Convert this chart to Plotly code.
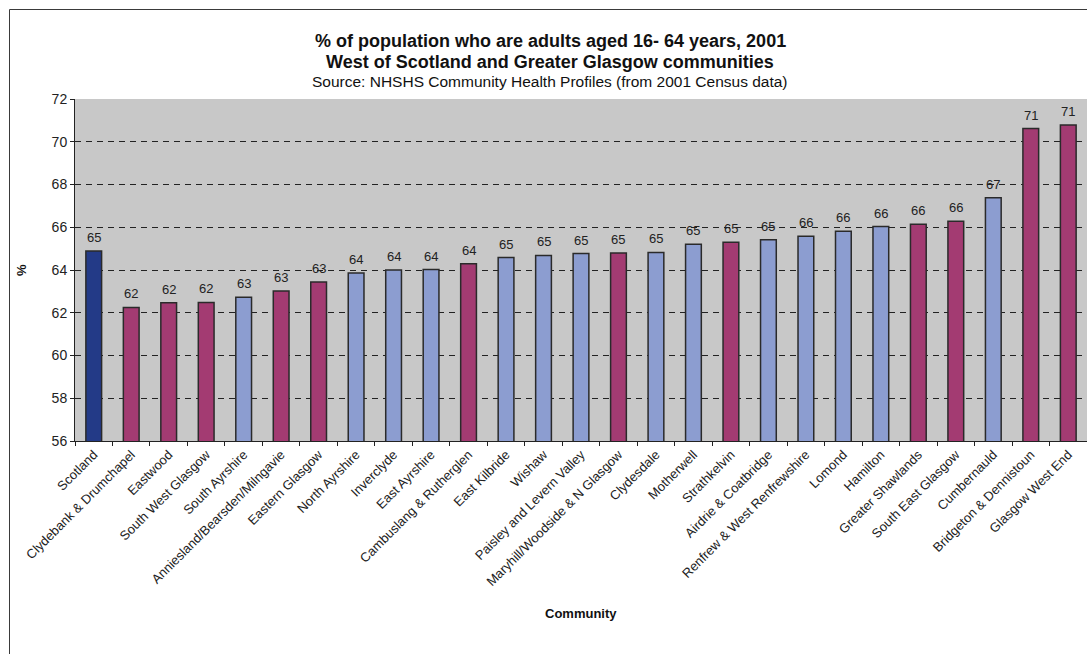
import plotly.graph_objects as go

# Communities, in chart order
communities = [
    "Scotland", "Clydebank & Drumchapel", "Eastwood", "South West Glasgow",
    "South Ayrshire", "Anniesland/Bearsden/Milngavie", "Eastern Glasgow",
    "North Ayrshire", "Inverclyde", "East Ayrshire", "Cambuslang & Rutherglen",
    "East Kilbride", "Wishaw", "Paisley and Levern Valley",
    "Maryhill/Woodside & N Glasgow", "Clydesdale", "Motherwell", "Strathkelvin",
    "Airdrie & Coatbridge", "Renfrew & West Renfrewshire", "Lomond", "Hamilton",
    "Greater Shawlands", "South East Glasgow", "Cumbernauld",
    "Bridgeton & Dennistoun", "Glasgow West End",
]

# % of population who are adults aged 16-64
pct_adults = [
    64.89, 62.25, 62.47, 62.48, 62.72, 63.02, 63.44, 63.86, 64.00, 64.02,
    64.29, 64.58, 64.68, 64.77, 64.79, 64.82, 65.21, 65.30, 65.41, 65.58,
    65.81, 66.03, 66.14, 66.28, 67.38, 70.62, 70.78,
]

# Area type: national figure, Glasgow city community, other community
area_type = [
    "national", "city", "city", "city", "other", "city", "city", "other",
    "other", "other", "city", "other", "other", "other", "city", "other",
    "other", "city", "other", "other", "other", "other", "city", "city",
    "other", "city", "city",
]

y_ticks = [56, 58, 60, 62, 64, 66, 68, 70, 72]

palette = {"national": "#233a87", "city": "#a33b72", "other": "#8c9dd0"}
bar_colors = [palette[t] for t in area_type]

FONT = "Liberation Sans, Arial, sans-serif"

fig = go.Figure()
fig.add_trace(go.Bar(
    x=communities,
    y=pct_adults,
    marker=dict(color=bar_colors, line=dict(color="#2a2a2a", width=1.5)),
    hoverinfo="x+y",
))

# Value labels above each bar
for c, v in zip(communities, pct_adults):
    fig.add_annotation(
        x=c, y=v, text=f"{v:.0f}", showarrow=False,
        yanchor="bottom", yshift=4,
        font=dict(family=FONT, size=13, color="#222222"),
    )

# Plot area in px
W, H = 1012, 342
L, T = 75, 99


def px_x(x):
    return (x - L) / W


def px_y(y):
    return (T + H - y) / H


title_lines = [
    ("<b>% of population who are adults aged 16- 64 years, 2001</b>", 41, 18),
    ("<b>West of Scotland and Greater Glasgow communities</b>", 61.5, 18),
    ("Source: NHSHS Community Health Profiles (from 2001 Census data)", 82, 15.5),
]
for text, ypx, size in title_lines:
    fig.add_annotation(
        x=px_x(550), y=px_y(ypx), xref="paper", yref="paper",
        text=text, showarrow=False, xanchor="center", yanchor="middle",
        font=dict(family=FONT, size=size, color="#111111"),
    )

fig.add_annotation(
    x=px_x(21), y=px_y(270), xref="paper", yref="paper",
    text="<b>%</b>", showarrow=False, textangle=-90,
    xanchor="center", yanchor="middle",
    font=dict(family=FONT, size=13, color="#111111"),
)
fig.add_annotation(
    x=px_x(581), y=px_y(613), xref="paper", yref="paper",
    text="<b>Community</b>", showarrow=False,
    xanchor="center", yanchor="middle",
    font=dict(family=FONT, size=13, color="#111111"),
)

# Outer chart frame
fig.add_shape(
    type="rect", xref="paper", yref="paper",
    x0=px_x(9.5), x1=1.2, y0=-1.2, y1=px_y(9.5),
    line=dict(color="#3a3a3a", width=1), fillcolor="rgba(0,0,0,0)",
    layer="below",
)

fig.update_layout(
    width=1087, height=654,
    margin=dict(l=L, r=1087 - L - W, t=T, b=654 - T - H),
    paper_bgcolor="white",
    plot_bgcolor="#c8c8c8",
    bargap=0.58,
    showlegend=False,
    font=dict(family=FONT, color="#222222"),
)
fig.update_xaxes(
    type="category",
    tickangle=-45,
    tickfont=dict(family=FONT, size=13, color="#222222"),
    showline=True, linecolor="#222222", linewidth=1,
    ticks="outside", tickson="boundaries", ticklen=4, tickcolor="#222222",
    showgrid=False,
)
fig.update_yaxes(
    range=[56, 72],
    tickvals=y_ticks,
    tickfont=dict(family=FONT, size=14, color="#222222"),
    showline=True, linecolor="#222222", linewidth=1,
    ticks="outside", ticklen=4, tickcolor="#222222",
    showgrid=True, gridcolor="#222222", gridwidth=1, griddash="6px,5px",
    zeroline=False,
)

fig.write_html("out.html")
